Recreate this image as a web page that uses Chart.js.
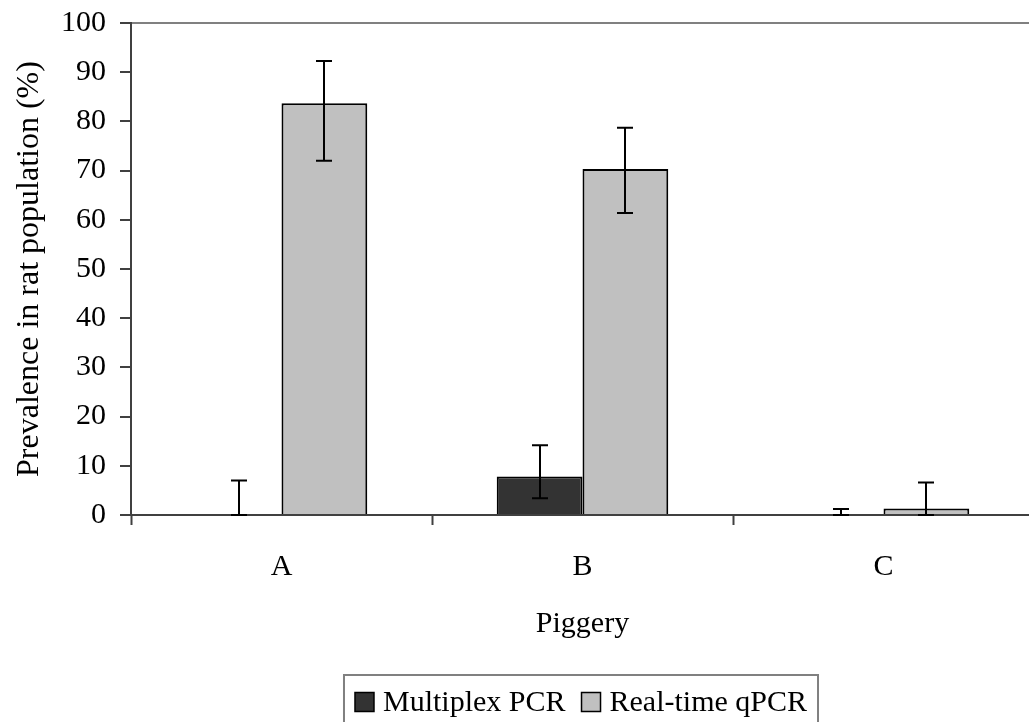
<!DOCTYPE html>
<html>
<head>
<meta charset="utf-8">
<script src="https://cdn.jsdelivr.net/npm/chart.js@4.4.1/dist/chart.umd.min.js"></script>
<style>
  html, body { margin: 0; padding: 0; background: #fff; overflow: hidden; }
  #wrap { width: 1029px; height: 722px; overflow: hidden; }
</style>
</head>
<body>
<div id="wrap"><canvas id="chart" width="1040" height="722"></canvas></div>
<script>
// Piggery categories and prevalence values (%)
const categories = ['A', 'B', 'C'];
const seriesNames = ['Multiplex PCR', 'Real-time qPCR'];

const multiplex = [0, 7.8, 0];
const multiplexLow = [0, 3.4, 0];
const multiplexHigh = [7.0, 14.2, 1.2];

const realtime = [83.7, 70.3, 1.3];
const realtimeLow = [72.0, 61.4, 0];
const realtimeHigh = [92.3, 78.7, 6.6];

const yTicks = [0, 10, 20, 30, 40, 50, 60, 70, 80, 90, 100];

const FONT = "'Liberation Serif', 'Times New Roman', serif";
const SIZE = 30;

// error bars drawn from the low/high arrays
const errorBars = {
    id: 'errorBars',
    afterDatasetsDraw(chart) {
        const ctx = chart.ctx;
        const y = chart.scales.y;
        const ranges = [[multiplexLow, multiplexHigh], [realtimeLow, realtimeHigh]];
        ctx.save();
        ctx.strokeStyle = '#000';
        ctx.lineWidth = 2;
        chart.data.datasets.forEach((ds, di) => {
            const meta = chart.getDatasetMeta(di);
            meta.data.forEach((bar, i) => {
                const lo = y.getPixelForValue(ranges[di][0][i]);
                const hi = y.getPixelForValue(ranges[di][1][i]);
                const x = Math.round(bar.x);
                ctx.beginPath();
                ctx.moveTo(x, lo); ctx.lineTo(x, hi);
                ctx.moveTo(x - 8, hi); ctx.lineTo(x + 8, hi);
                ctx.moveTo(x - 8, lo); ctx.lineTo(x + 8, lo);
                ctx.stroke();
            });
        });
        ctx.restore();
    }
};

// framed legend at the bottom
const boxLegend = {
    id: 'boxLegend',
    afterDraw(chart) {
        const ctx = chart.ctx;
        ctx.save();
        ctx.font = SIZE + 'px ' + FONT;
        ctx.textBaseline = 'middle';
        const box = 19, gap = 9, pad = 11, between = 16;
        const widths = seriesNames.map(n => ctx.measureText(n).width);
        const total = 2 * pad + widths.reduce((s, w) => s + box + gap + w, 0) + between;
        let x = 581 - total / 2;
        const top = 675, midY = 702;
        ctx.strokeStyle = '#808080';
        ctx.lineWidth = 2;
        ctx.strokeRect(x, top, total, 60);
        x += pad;
        chart.data.datasets.forEach((ds, i) => {
            ctx.fillStyle = ds.backgroundColor;
            ctx.fillRect(x, midY - box / 2, box, box);
            ctx.strokeStyle = '#000';
            ctx.lineWidth = 1.5;
            ctx.strokeRect(x, midY - box / 2, box, box);
            x += box + gap;
            ctx.fillStyle = '#000';
            ctx.fillText(seriesNames[i], x, midY + 1);
            x += widths[i] + between;
        });
        ctx.restore();
    }
};

const chartData = {
    labels: categories,
    datasets: [
        {
            label: seriesNames[0],
            data: multiplex,
            backgroundColor: '#333333',
            borderColor: '#000',
            borderWidth: 2,
            categoryPercentage: 0.57,
            barPercentage: 1
        },
        {
            label: seriesNames[1],
            data: realtime,
            backgroundColor: '#c0c0c0',
            borderColor: '#000',
            borderWidth: 2,
            categoryPercentage: 0.57,
            barPercentage: 1
        }
    ]
};

const config = {
    type: 'bar',
    data: chartData,
    plugins: [errorBars, boxLegend],
    options: {
        responsive: false,
        animation: false,
        layout: { padding: { top: 0, right: 6, bottom: 80, left: 0 } },
        plugins: {
            legend: { display: false },
            tooltip: { enabled: false }
        },
        scales: {
            x: {
                grid: {
                    offset: true,
                    drawOnChartArea: false,
                    tickLength: 10,
                    tickColor: '#404040',
                    tickWidth: 2
                },
                border: { color: '#404040', width: 2 },
                ticks: { color: '#000', font: { family: FONT, size: SIZE }, padding: 24 },
                title: {
                    display: true,
                    text: 'Piggery',
                    color: '#000',
                    font: { family: FONT, size: SIZE },
                    padding: { top: 0, bottom: 0 }
                },
                afterFit(scale) { scale.height = 127; }
            },
            y: {
                min: 0,
                max: 100,
                afterBuildTicks(scale) {
                    scale.ticks = yTicks.map(v => ({ value: v }));
                },
                grid: {
                    color: ctx => ctx.tick && ctx.tick.value === 100 ? '#808080' : 'rgba(0,0,0,0)',
                    lineWidth: 2,
                    tickLength: 11,
                    tickColor: '#404040',
                    tickWidth: 2
                },
                border: { color: '#404040', width: 2 },
                ticks: { color: '#000', font: { family: FONT, size: SIZE }, padding: 14 },
                title: {
                    display: true,
                    text: 'Prevalence in rat population (%)',
                    color: '#000',
                    font: { family: FONT, size: 32 },
                    padding: { top: 10, bottom: 0 }
                },
                afterFit(scale) {
                    scale.width = 131;
                    scale.paddingTop = 23;
                    scale.paddingBottom = 0;
                }
            }
        }
    }
};

window.onload = function() {
    const ctx = document.getElementById('chart').getContext('2d');
    new Chart(ctx, config);
};
</script>
</body>
</html>
